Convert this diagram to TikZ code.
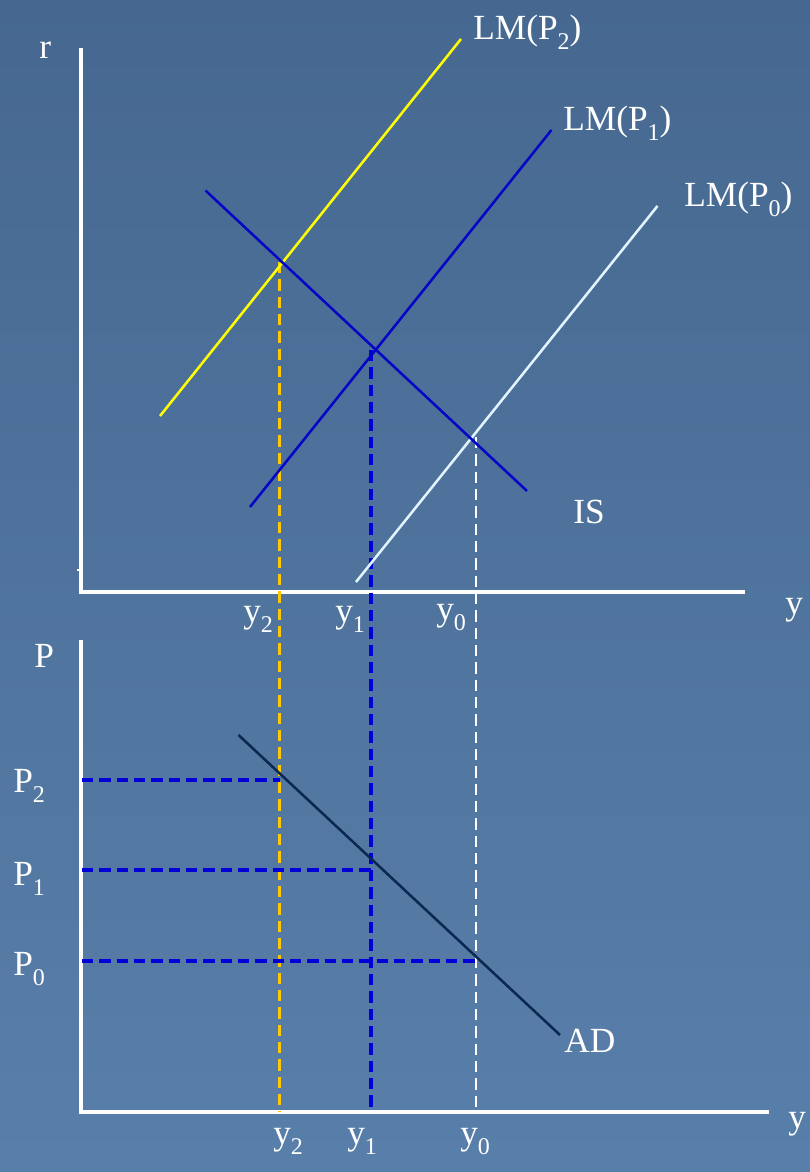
\documentclass[tikz,border=0pt]{standalone}
\usepackage{fontspec}
\setmainfont{Liberation Serif}
\newcommand{\lsub}[1]{\raisebox{-0.3em}{\fontsize{18}{21}\selectfont #1}}
\definecolor{bgtop}{RGB}{70,104,144}
\definecolor{bgbot}{RGB}{88,127,170}
\definecolor{lmblue}{RGB}{5,5,200}
\definecolor{dashblue}{RGB}{0,0,215}
\definecolor{lmyellow}{RGB}{255,255,0}
\definecolor{lmcyan}{RGB}{225,245,255}
\definecolor{adnavy}{RGB}{10,40,80}
\definecolor{dashorange}{RGB}{255,200,0}
\begin{document}
\begin{tikzpicture}[x=0.75pt,y=-0.75pt,
  lbl/.style={anchor=base west,inner sep=0pt,text=white,font=\fontsize{26.5}{31}\selectfont},
  axisline/.style={draw=white,line width=2.4pt},
  curve/.style={line width=1.9pt},
  guide/.style={line width=2.1pt,dash pattern=on 8.5pt off 4.5pt},
  blueguide/.style={guide,draw=dashblue,line width=2.6pt}]
\shade[top color=bgtop,bottom color=bgbot] (0,0) rectangle (810,1172);
\useasboundingbox (0,0) rectangle (810,1172);
% upper axes
\coordinate (rtop) at (81,48);
\coordinate (o1) at (81,592);
\coordinate (yend1) at (745,592);
\draw[axisline] (rtop) -- (o1) -- (yend1);
\coordinate (tickA) at (77,570);
\coordinate (tickB) at (81,570);
\draw[draw=white,line width=0.8pt] (tickA) -- (tickB);
% lower axes
\coordinate (ptop) at (81,640);
\coordinate (o2) at (81,1112);
\coordinate (yend2) at (769,1112);
\draw[axisline] (ptop) -- (o2) -- (yend2);
% curves endpoints
\coordinate (lm2a) at (160,416);
\coordinate (lm2b) at (461,39);
\coordinate (lm1a) at (250,507);
\coordinate (lm1b) at (551.5,130);
\coordinate (lm0a) at (356,582);
\coordinate (lm0b) at (657.5,206);
\coordinate (isa) at (205.5,190.5);
\coordinate (isb) at (527,491);
\coordinate (ada) at (238.5,735);
\coordinate (adb) at (560,1035);
% intersections
\coordinate (e2) at (279.5,262);
\coordinate (e1) at (371,350);
\coordinate (e0) at (476,437);
\coordinate (b2) at (279.5,1112);
\coordinate (b1) at (371,1112);
\coordinate (b0) at (476,1112);
\coordinate (p2) at (279.5,780);
\coordinate (p1) at (371,870);
\coordinate (p0) at (476,961);
\coordinate (p2a) at (82,780);
\coordinate (p1a) at (82,870);
\coordinate (p0a) at (82,961);
% dashed guides
\draw[guide,draw=dashorange] (e2) -- (b2);
\draw[blueguide] (e1) -- (b1);
\draw[guide,draw=white,line width=1.8pt] (e0) -- (b0);
\draw[blueguide] (p2a) -- (p2);
\draw[blueguide] (p1a) -- (p1);
\draw[blueguide] (p0a) -- (p0);
% curves
\draw[curve,draw=lmyellow] (lm2a) -- (lm2b);
\draw[curve,draw=lmblue] (lm1a) -- (lm1b);
\draw[curve,draw=lmcyan] (lm0a) -- (lm0b);
\draw[curve,draw=lmblue] (isa) -- (isb);
\draw[curve,draw=adnavy] (ada) -- (adb);
% labels
\node[lbl] (lr) at (39,58) {r};
\node[lbl] (lP) at (34,667) {P};
\node[lbl] (llm2) at (473,39) {LM(P\lsub{2})};
\node[lbl] (llm1) at (563,130) {LM(P\lsub{1})};
\node[lbl] (llm0) at (684,206) {LM(P\lsub{0})};
\node[lbl] (lis) at (573,523) {IS};
\node[lbl] (lyu) at (785,614) {y};
\node[lbl] (ly2u) at (243,622) {y\lsub{2}};
\node[lbl] (ly1u) at (335,622) {y\lsub{1}};
\node[lbl] (ly0u) at (436,620) {y\lsub{0}};
\node[lbl] (lp2) at (13,792) {P\lsub{2}};
\node[lbl] (lp1) at (13,885) {P\lsub{1}};
\node[lbl] (lp0) at (13,975) {P\lsub{0}};
\node[lbl] (lad) at (564,1052) {AD};
\node[lbl] (lyl) at (788,1128) {y};
\node[lbl] (ly2l) at (273,1144) {y\lsub{2}};
\node[lbl] (ly1l) at (347,1144) {y\lsub{1}};
\node[lbl] (ly0l) at (460,1144) {y\lsub{0}};
\end{tikzpicture}
\end{document}
